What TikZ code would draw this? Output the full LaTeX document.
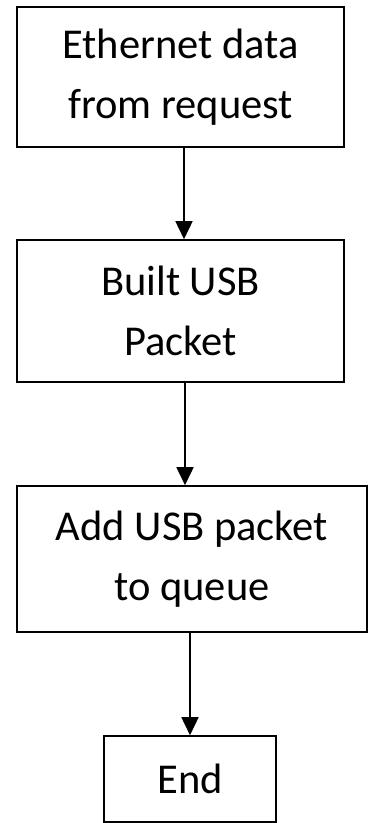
\documentclass[tikz,border=0pt]{standalone}
\usepackage{fontspec}
\setmainfont{Carlito}
\usetikzlibrary{arrows.meta}
\begin{document}
\begin{tikzpicture}[x=1pt,y=-1pt,
  stepbox/.style={draw, line width=1.6pt, align=center, inner sep=0pt,
    font=\fontsize{42.5}{60}\selectfont},
  arr/.style={line width=1.6pt, -{Triangle[width=17pt,length=18pt]}}]
  \useasboundingbox (0,0) rectangle (370,823);
  % process boxes, top to bottom
  \node[stepbox, minimum width=327pt, minimum height=140pt] (b1) at (180.5,77) {Ethernet data\\from request};
  \node[stepbox, minimum width=327pt, minimum height=142pt] (b2) at (180.5,311) {Built USB\\Packet};
  \node[stepbox, minimum width=350pt, minimum height=146pt] (b3) at (192,559) {Add USB packet\\to queue};
  \node[stepbox, minimum width=172pt, minimum height=86pt] (e) at (190,779) {End};
  % connectors
  \draw[arr] ([xshift=3.5pt]b1.south) -- ([xshift=3.5pt]b2.north);
  \draw[arr] ([xshift=4.5pt]b2.south) -- ([xshift=-7pt]b3.north);
  \draw[arr] (b3.south -| e.north) -- (e.north);
\end{tikzpicture}
\end{document}
